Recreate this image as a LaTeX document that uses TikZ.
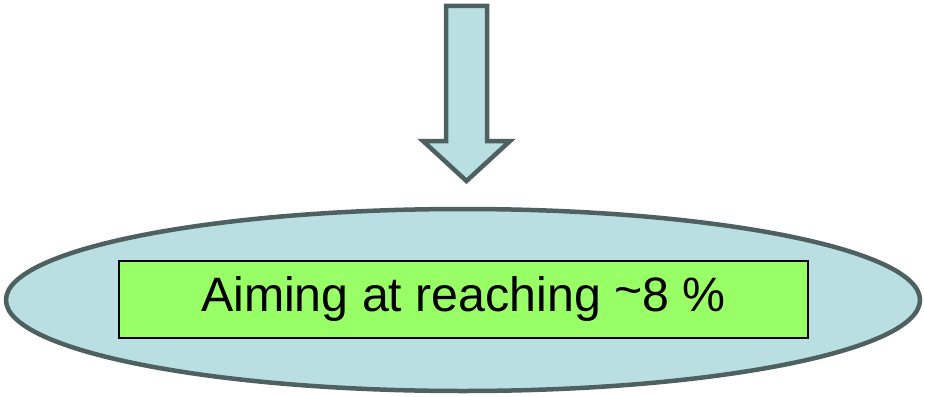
\documentclass[tikz,border=0pt]{standalone}
\usepackage{fontspec}
\setmainfont{Liberation Sans}
\usetikzlibrary{shapes.geometric}
\definecolor{paleblue}{HTML}{B9DFE3}
\definecolor{slate}{HTML}{4E605F}
\definecolor{limegreen}{HTML}{99FF66}
\tikzset{
  outline/.style={draw=slate, line width=4.5pt, fill=paleblue, line join=miter},
  labelbox/.style={draw=black, line width=1.3pt, fill=limegreen, minimum width=689pt,
    minimum height=77pt, inner sep=0pt, font=\fontsize{48.3}{58}\selectfont}
}
\begin{document}
\begin{tikzpicture}[x=1pt,y=-1pt]
  \useasboundingbox (0,0) rectangle (925,396);
  % down arrow
  \draw[outline] (446,6) -- (487,6) -- (487,141) -- (510,141) -- (466.5,181)
    -- (423,141) -- (446,141) -- cycle;
  % ellipse
  \node[outline, ellipse, minimum width=914pt, minimum height=182pt, inner sep=0pt]
    (oval) at (463,300) {};
  % text box
  \node[labelbox] (goal) at (463.5,299.5) {Aiming at reaching \raisebox{0.12em}{\textasciitilde}8 \%};
\end{tikzpicture}
\end{document}
